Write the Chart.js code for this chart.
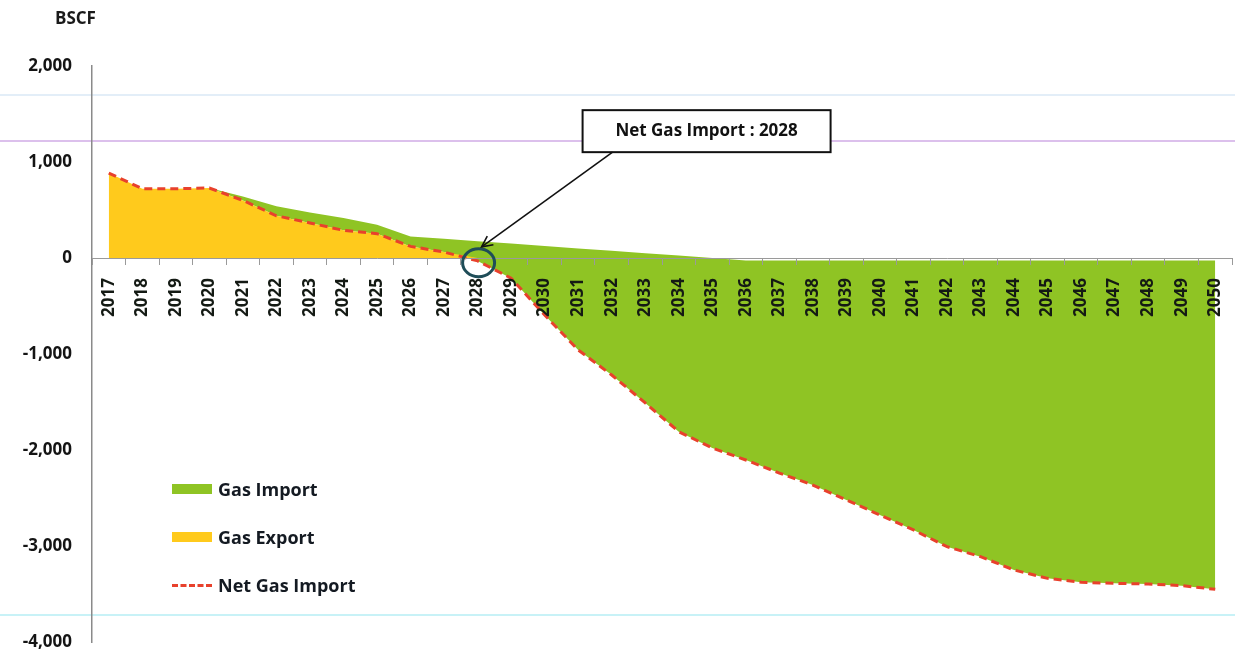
<!DOCTYPE html>
<html>
<head>
<meta charset="utf-8">
<script src="https://cdn.jsdelivr.net/npm/chart.js@4.4.0/dist/chart.umd.min.js"></script>
<style>
  html, body { margin: 0; padding: 0; background: #fff; }
  #wrap { position: relative; width: 1235px; height: 655px; font-family: "Open Sans", "Liberation Sans", sans-serif; }
  #chart { position: absolute; left: 0; top: 0; }
  .scan { position: absolute; left: 0; width: 1235px; height: 2px; }
  #unit { position: absolute; left: 55px; top: 6px; font-weight: 700; font-size: 17px; color: #1a1a1a; }
  #legend { position: absolute; left: 172px; top: 476px; }
  .item { display: flex; align-items: center; height: 26px; margin-bottom: 22px; font-weight: 700; font-size: 18px; color: #141a22; }
  .sw { width: 40px; height: 10px; margin-right: 6px; }
  .dash { width: 40px; height: 0; border-top: 3px dashed #e8412c; margin-right: 6px; }
</style>
</head>
<body>
<div id="wrap">
  <div class="scan" style="top:94px;background:#e3eef8"></div>
  <div class="scan" style="top:140px;background:#dcc0ec"></div>
  <div class="scan" style="top:614px;background:#c8f2f7"></div>
  <canvas id="chart" width="1235" height="655"></canvas>
  <div id="unit">BSCF</div>
  <div id="legend"></div>
</div>
<script>
// Data (BSCF)
const years = ['2017','2018','2019','2020','2021','2022','2023','2024','2025','2026','2027','2028',
  '2029','2030','2031','2032','2033','2034','2035','2036','2037','2038','2039','2040',
  '2041','2042','2043','2044','2045','2046','2047','2048','2049','2050'];

const netImport = [885, 722, 722, 729, 600, 440, 365, 288, 253, 121, 62, -30,
  -210, -594, -958, -1219, -1510, -1809, -1979, -2104, -2240, -2365, -2520, -2677,
  -2833, -3007, -3111, -3250, -3337, -3378, -3389, -3396, -3413, -3451];

const gasExport = [885, 722, 722, 729, 600, 440, 365, 288, 253, 121, 62, 0,
  null, null, null, null, null, null, null, null, null, null, null, null,
  null, null, null, null, null, null, null, null, null, null];

// upper edge of the green import area
const importTop = [885, 722, 722, 729, 640, 538, 475, 417, 347, 225, 201, 175,
  150, 125, 100, 75, 50, 25, 0, -25, -25, -25, -25, -25,
  -25, -25, -25, -25, -25, -25, -25, -25, -25, -25];

const yTicks = [2000, 1000, 0, -1000, -2000, -3000, -4000];

const calloutYear = '2028';
const calloutText = 'Net Gas Import : 2028';

const GREEN = '#8fc424';
const YELLOW = '#ffca1c';
const RED = '#e8412c';
const FONT = '"Open Sans", "Liberation Sans", sans-serif';

const ctx = document.getElementById('chart').getContext('2d');

// circle, arrow and text box pointing at the crossover year
const callout = {
  id: 'callout',
  afterDraw(chart) {
    const x = chart.scales.x, y = chart.scales.y;
    const cx = x.getPixelForValue(years.indexOf(calloutYear));
    const cy = y.getPixelForValue(-50);
    const c = chart.ctx;
    c.save();
    c.strokeStyle = '#1f4d58';
    c.lineWidth = 3;
    c.beginPath();
    c.ellipse(cx + 1, cy, 16, 14, 0, 0, Math.PI * 2);
    c.stroke();

    // box
    const bx = cx + 105, by = y.getPixelForValue(1540), bw = 248, bh = 42;
    c.fillStyle = '#fff';
    c.fillRect(bx, by, bw, bh);
    c.strokeStyle = '#111';
    c.lineWidth = 2;
    c.strokeRect(bx, by, bw, bh);
    c.fillStyle = '#111';
    c.font = 'bold 17px ' + FONT;
    c.textAlign = 'center';
    c.textBaseline = 'middle';
    c.fillText(calloutText, bx + bw / 2, by + bh / 2);

    // arrow
    const x0 = bx + 30, y0 = by + bh, x1 = cx + 4, y1 = cy - 16;
    c.lineWidth = 1.6;
    c.beginPath();
    c.moveTo(x0, y0);
    c.lineTo(x1, y1);
    c.stroke();
    const a = Math.atan2(y1 - y0, x1 - x0);
    c.beginPath();
    c.moveTo(x1 - 12 * Math.cos(a - 0.45), y1 - 12 * Math.sin(a - 0.45));
    c.lineTo(x1, y1);
    c.lineTo(x1 - 12 * Math.cos(a + 0.45), y1 - 12 * Math.sin(a + 0.45));
    c.stroke();
    c.restore();
  }
};

const chart = new Chart(ctx, {
  type: 'line',
  data: {
    labels: years,
    datasets: [
      {
        label: 'Net Gas Import',
        data: netImport,
        borderColor: RED,
        borderWidth: 3,
        borderDash: [8, 5],
        pointRadius: 0,
        fill: false,
        tension: 0,
        order: 0
      },
      {
        label: 'Gas Export',
        data: gasExport,
        borderWidth: 0,
        backgroundColor: YELLOW,
        pointRadius: 0,
        fill: 'origin',
        tension: 0,
        order: 1
      },
      {
        label: 'Gas Import',
        data: importTop,
        borderWidth: 0,
        backgroundColor: GREEN,
        pointRadius: 0,
        fill: 0,
        tension: 0,
        order: 2
      }
    ]
  },
  options: {
    responsive: false,
    animation: false,
    layout: { padding: { top: 66, bottom: 13, left: 0, right: 3 } },
    plugins: {
      legend: { display: false },
      tooltip: { enabled: false }
    },
    scales: {
      x: {
        position: { y: 0 },
        offset: true,
        // the axis sits inside the plot, so it should not take room from it
        afterFit(s) {
          s.height = 0;
          s.paddingLeft = 0;
          s.paddingRight = 0;
          s.paddingTop = 0;
          s.paddingBottom = 0;
        },
        border: { color: '#9a9a9a', width: 1, z: 1 },
        grid: { offset: true, drawOnChartArea: false, drawTicks: true, tickLength: 6, color: '#9a9a9a', z: 1 },
        ticks: {
          z: 1,
          autoSkip: false,
          minRotation: 90,
          maxRotation: 90,
          padding: 14,
          color: '#141a14',
          font: { family: FONT, weight: 'bold', size: 17 }
        }
      },
      y: {
        min: -4000,
        max: 2000,
        afterFit(s) {
          s.width = 92;
          s.paddingTop = 0;
          s.paddingBottom = 0;
        },
        afterBuildTicks(s) { s.ticks = yTicks.map(v => ({ value: v })); },
        border: { color: '#8a8a8a', width: 1.5 },
        grid: { display: false, drawTicks: false },
        ticks: {
          padding: 20,
          color: '#141414',
          font: { family: FONT, weight: 'bold', size: 17 },
          callback: v => v.toLocaleString('en-US')
        }
      }
    }
  },
  plugins: [callout]
});

// legend from the chart's datasets
const legend = document.getElementById('legend');
['Gas Import', 'Gas Export', 'Net Gas Import'].forEach(name => {
  const ds = chart.data.datasets.find(d => d.label === name);
  const row = document.createElement('div');
  row.className = 'item';
  const mark = document.createElement('span');
  if (ds.fill === false) {
    mark.className = 'dash';
  } else {
    mark.className = 'sw';
    mark.style.background = ds.backgroundColor;
  }
  row.appendChild(mark);
  row.appendChild(document.createTextNode(ds.label));
  legend.appendChild(row);
});
</script>
</body>
</html>
